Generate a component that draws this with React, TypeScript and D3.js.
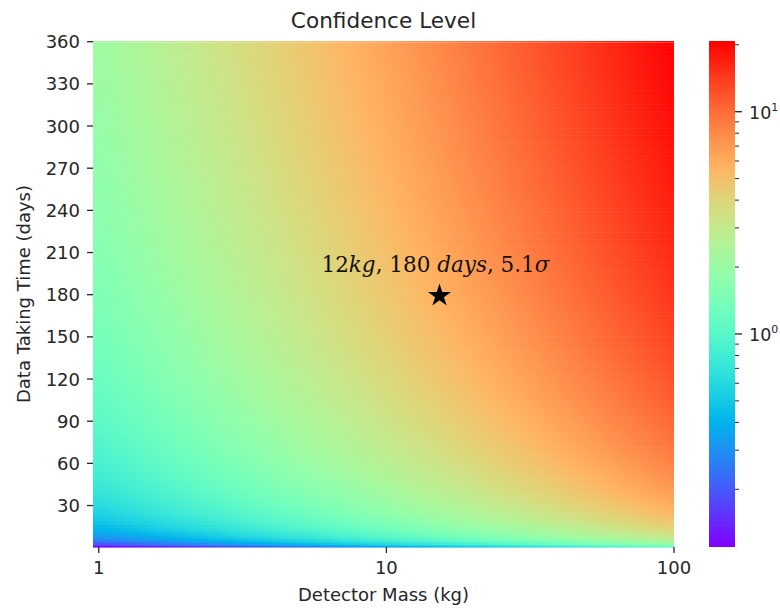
import { useEffect, useRef } from "react"
import * as d3 from "d3"

// grid of confidence (sigma): rows follow dayGrid, columns follow massGrid
const massGrid = [1, 3, 10, 30, 100]
const dayGrid = [1, 5, 30, 90, 180, 360]
const sigmaGrid = [
  [0.11, 0.19, 0.35, 0.6, 1.1],
  [0.245, 0.425, 0.776, 1.344, 2.45],
  [0.6, 1.04, 1.9, 3.29, 6.01],
  [1.04, 1.8, 3.29, 5.7, 10.4],
  [1.47, 2.55, 4.66, 8.06, 14.7],
  [2.08, 3.6, 6.58, 11.4, 20.8],
]

const dayTicks = [30, 60, 90, 120, 150, 180, 210, 240, 270, 300, 330, 360]
const massTicks = [1, 10, 100]

const markerMass = 15.3
const markerDays = 180
// [text, italic]
const markerLabel: [string, boolean][] = [
  ["12", false],
  ["kg", true],
  [", 180 ", false],
  ["days", true],
  [", 5.1", false],
  ["σ", true],
]

const W = 780
const H = 608

// matplotlib "rainbow"
function rainbow(t: number) {
  const c = (v: number) => Math.round(255 * Math.max(0, Math.min(1, v)))
  const r = Math.abs(2 * t - 0.5)
  const g = Math.sin(Math.PI * t)
  const b = Math.cos((Math.PI * t) / 2)
  return `rgb(${c(r)},${c(g)},${c(b)})`
}

function locate(grid: number[], v: number) {
  const lg = grid.map(Math.log10)
  const lv = Math.log10(Math.max(grid[0], Math.min(grid[grid.length - 1], v)))
  let i = 0
  while (i < lg.length - 2 && lv > lg[i + 1]) i++
  return { i, f: (lv - lg[i]) / (lg[i + 1] - lg[i]) }
}

function sigmaAt(mass: number, days: number) {
  const a = locate(massGrid, mass)
  const b = locate(dayGrid, days)
  const L = (r: number, c: number) => Math.log10(sigmaGrid[r][c])
  const top = L(b.i, a.i) * (1 - a.f) + L(b.i, a.i + 1) * a.f
  const bot = L(b.i + 1, a.i) * (1 - a.f) + L(b.i + 1, a.i + 1) * a.f
  return Math.pow(10, top * (1 - b.f) + bot * b.f)
}

export default function App() {
  const svgRef = useRef<SVGSVGElement | null>(null)

  useEffect(() => {
    const svg = d3.select(svgRef.current)
    svg.selectAll("*").remove()

    const left = 93
    const right = 674
    const top = 41
    const bottom = 547

    const x = d3.scaleLog().domain([0.955, 100]).range([left, right])
    const y = d3.scaleLinear().domain([0.5, 360.5]).range([bottom, top])

    const all = sigmaGrid.flat()
    const cmin = d3.min(all)!
    const cmax = d3.max(all)!
    const cnorm = d3.scaleLog().domain([cmin, cmax]).range([0, 1]).clamp(true)
    const color = (s: number) => rainbow(cnorm(s))

    const defs = svg.append("defs")
    const days = d3.range(1, 361)
    const nStops = 48
    const stopFracs = d3.range(nStops + 1).map((i) => i / nStops)

    days.forEach((d) => {
      const grad = defs
        .append("linearGradient")
        .attr("id", `row${d}`)
        .attr("x1", 0)
        .attr("x2", 1)
        .attr("y1", 0)
        .attr("y2", 0)
      stopFracs.forEach((f) => {
        const m = x.invert(left + f * (right - left))
        grad.append("stop").attr("offset", f).attr("stop-color", color(sigmaAt(m, d)))
      })
    })

    // heatmap, one row per day
    svg
      .append("g")
      .selectAll("rect")
      .data(days)
      .enter()
      .append("rect")
      .attr("x", left)
      .attr("width", right - left)
      .attr("y", (d) => y(d + 0.5))
      .attr("height", (d) => y(d - 0.5) - y(d + 0.5) + (d < 360 ? 0.6 : 0))
      .attr("fill", (d) => `url(#row${d})`)

    const font = "'DejaVu Sans', sans-serif"
    const ink = "#262626"

    // y axis
    const yAxis = svg.append("g")
    dayTicks.forEach((t) => {
      yAxis
        .append("line")
        .attr("x1", left - 6)
        .attr("x2", left)
        .attr("y1", y(t))
        .attr("y2", y(t))
        .attr("stroke", ink)
        .attr("stroke-width", 1.3)
      yAxis
        .append("text")
        .attr("x", left - 13)
        .attr("y", y(t))
        .attr("dy", "0.36em")
        .attr("text-anchor", "end")
        .attr("font-family", font)
        .attr("font-size", 18)
        .attr("fill", ink)
        .text(t)
    })

    // x axis
    const xAxis = svg.append("g")
    massTicks.forEach((t) => {
      xAxis
        .append("line")
        .attr("x1", x(t))
        .attr("x2", x(t))
        .attr("y1", bottom)
        .attr("y2", bottom + 6)
        .attr("stroke", ink)
        .attr("stroke-width", 1.3)
      xAxis
        .append("text")
        .attr("x", x(t))
        .attr("y", bottom + 27)
        .attr("text-anchor", "middle")
        .attr("font-family", font)
        .attr("font-size", 18)
        .attr("fill", ink)
        .text(t)
    })

    svg
      .append("text")
      .attr("x", (left + right) / 2)
      .attr("y", 601)
      .attr("text-anchor", "middle")
      .attr("font-family", font)
      .attr("font-size", 18)
      .attr("fill", ink)
      .text("Detector Mass (kg)")

    svg
      .append("text")
      .attr("transform", `translate(30,${(top + bottom) / 2}) rotate(-90)`)
      .attr("text-anchor", "middle")
      .attr("font-family", font)
      .attr("font-size", 18)
      .attr("fill", ink)
      .text("Data Taking Time (days)")

    svg
      .append("text")
      .attr("x", (left + right) / 2)
      .attr("y", 28)
      .attr("text-anchor", "middle")
      .attr("font-family", font)
      .attr("font-size", 21.6)
      .attr("fill", ink)
      .text("Confidence Level")

    // marker + annotation
    const mx = x(markerMass)
    const my = y(markerDays)
    svg
      .append("path")
      .attr("transform", `translate(${mx},${my + 1})`)
      .attr("d", d3.symbol(d3.symbolStar, 165)())
      .attr("fill", "black")

    const label = svg
      .append("text")
      .attr("x", mx - 4)
      .attr("y", my - 23)
      .attr("text-anchor", "middle")
      .attr("font-family", "'DejaVu Serif', serif")
      .attr("font-size", 21.5)
      .attr("fill", "#111")
    markerLabel.forEach(([s, it]) => {
      label
        .append("tspan")
        .attr("font-style", it ? "italic" : "normal")
        .style("white-space", "pre")
        .text(s)
    })

    // colorbar
    const cbLeft = 709
    const cbRight = 735
    const cb = d3.scaleLog().domain([cmin, cmax]).range([bottom, top])
    const cbGrad = defs
      .append("linearGradient")
      .attr("id", "cbar")
      .attr("x1", 0)
      .attr("x2", 0)
      .attr("y1", 1)
      .attr("y2", 0)
    d3.range(61).forEach((i) => {
      cbGrad
        .append("stop")
        .attr("offset", i / 60)
        .attr("stop-color", rainbow(i / 60))
    })
    svg
      .append("rect")
      .attr("x", cbLeft)
      .attr("y", top)
      .attr("width", cbRight - cbLeft)
      .attr("height", bottom - top)
      .attr("fill", "url(#cbar)")

    const cbAxis = svg.append("g")
    cb.ticks().forEach((t) => {
      const exp = Math.log10(t)
      const major = Math.abs(exp - Math.round(exp)) < 1e-9
      cbAxis
        .append("line")
        .attr("x1", cbRight)
        .attr("x2", cbRight + (major ? 7 : 4))
        .attr("y1", cb(t))
        .attr("y2", cb(t))
        .attr("stroke", ink)
        .attr("stroke-width", major ? 1.3 : 1)
      if (major) {
        const txt = cbAxis
          .append("text")
          .attr("x", cbRight + 14)
          .attr("y", cb(t) + 7)
          .attr("font-family", font)
          .attr("font-size", 17.5)
          .attr("fill", ink)
        txt.append("tspan").text("10")
        txt
          .append("tspan")
          .attr("font-size", 11)
          .attr("dy", -8)
          .text(Math.round(exp))
      }
    })
  }, [])

  return (
    <svg
      ref={svgRef}
      width={W}
      height={H}
      style={{ position: "absolute", left: 0, top: 0, background: "white" }}
    ></svg>
  )
}
